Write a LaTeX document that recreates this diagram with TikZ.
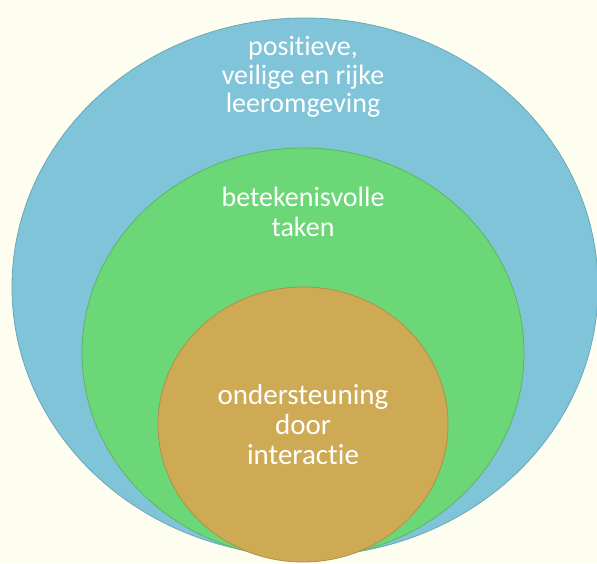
\documentclass[tikz,border=0pt]{standalone}
\usepackage{fontspec}
\setmainfont{Carlito}[RawFeature=-liga]
\usetikzlibrary{shapes.geometric}
\definecolor{bgcream}{HTML}{FEFEF0}
\definecolor{ringblue}{HTML}{7FC4D8}
\definecolor{ringgreen}{HTML}{6BD776}
\definecolor{ringgold}{HTML}{CFAA55}
\tikzset{
  ring/.style={draw,ellipse, inner sep=0, line width=0.8pt, fill=#1, draw=#1!85!black},
  ringtext/.style={text=white, align=center}
}
\begin{document}
\begin{tikzpicture}[x=1pt,y=-1pt]
  \fill[bgcream] (0,0) rectangle (597,563);
  \useasboundingbox (0,0) rectangle (597,563);
  \node[ring=ringblue, minimum width=586pt, minimum height=538pt] (outer) at (305,287) {};
  \node[ring=ringgreen, minimum width=442pt, minimum height=410pt] (middle) at (303,353) {};
  \node[ring=ringgold, minimum width=290pt, minimum height=275pt] (inner) at (303,424.5) {};
  \node[ringtext, font=\fontsize{28}{28.5}\selectfont] (outertext) at (303,77) {positieve,\\veilige en rijke\\leeromgeving};
  \node[ringtext, font=\fontsize{28}{30}\selectfont] (middletext) at (303,212) {betekenisvolle\\taken};
  \node[ringtext, font=\fontsize{29}{30}\selectfont] (innertext) at (303,425) {ondersteuning\\door\\interactie};
\end{tikzpicture}
\end{document}
